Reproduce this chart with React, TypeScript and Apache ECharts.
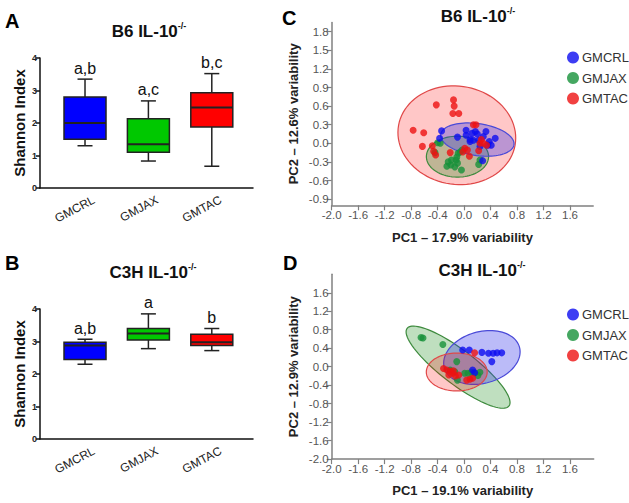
import React, { useEffect, useRef } from 'react';
import * as echarts from 'echarts';

const FONT = '"Liberation Sans", Arial, sans-serif';

const groups = ['GMCRL', 'GMJAX', 'GMTAC'];
const boxColors = ['#0000ff', '#00c800', '#ff0000'];
const pointColors = ['#0c0cf0', '#16913a', '#ee1111'];

// [min, q1, median, q3, max]
const boxA = [
  [1.3, 1.5, 2.0, 2.8, 3.35],
  [0.83, 1.1, 1.35, 2.13, 2.68],
  [0.67, 1.88, 2.48, 2.93, 3.52],
];
const lettersA = ['a,b', 'a,c', 'b,c'];
const boxB = [
  [2.3, 2.45, 2.88, 2.98, 3.07],
  [2.78, 3.05, 3.25, 3.4, 3.85],
  [2.72, 2.88, 2.98, 3.22, 3.4],
];
const lettersB = ['a,b', 'a', 'b'];

const pcXTicks = [-2.0, -1.6, -1.2, -0.8, -0.4, 0.0, 0.4, 0.8, 1.2, 1.6];
const cYTicks = [-0.9, -0.6, -0.3, 0.0, 0.3, 0.6, 0.9, 1.2, 1.5, 1.8];
const dYTicks = [-2.0, -1.6, -1.2, -0.8, -0.4, 0.0, 0.4, 0.8, 1.2, 1.6];

// Panel C (B6 IL-10-/-) PCA points
const crlC = [[-0.34, 0.2], [-0.37, 0.08], [-0.1, 0.1], [0.03, 0.21], [0.03, 0.13], [0.12, 0.16], [0.17, 0.19], [0.2, 0.15], [0.33, 0.19], [0.47, 0.08], [0.38, 0.03], [0.09, 0.06], [0.14, 0.05], [0.22, 0.05], [0.29, 0.11], [0.36, -0.03], [0.41, -0.03], [0.24, -0.05], [0.28, -0.28], [0.09, 0.03]];
const jaxC = [[-0.4, 0.01], [-0.36, 0.0], [-0.44, -0.15], [-0.24, -0.3], [-0.2, -0.35], [-0.14, -0.38], [-0.19, -0.27], [-0.11, -0.22], [-0.09, -0.16], [-0.06, -0.14], [-0.1, -0.32], [-0.04, -0.43], [-0.26, -0.37], [-0.12, -0.27], [-0.03, -0.11], [0.22, -0.34], [0.24, -0.27]];
const tacC = [[-0.42, 0.62], [-0.16, 0.7], [-0.15, 0.6], [-0.17, 0.48], [-0.08, 0.48], [-0.77, 0.21], [-0.61, 0.17], [-0.63, -0.05], [-0.48, -0.04], [-0.46, -0.13], [-0.43, -0.19], [-0.21, -0.15], [0.14, 0.3], [0.18, 0.3], [0.01, -0.08], [0.05, -0.11], [-0.02, -0.14], [0.08, -0.21], [0.24, 0.0], [0.29, 0.0], [0.34, -0.03], [0.26, 0.06], [0.22, -0.12]];

// Panel D (C3H IL-10-/-) PCA points
const crlD = [[-0.02, 0.36], [0.08, 0.36], [0.27, 0.31], [0.37, 0.29], [0.44, 0.29], [0.5, 0.3], [0.57, 0.3], [0.42, 0.11], [0.13, -0.07], [0.16, -0.13]];
const jaxD = [[-0.65, 0.63], [-0.62, 0.62], [-0.32, 0.48], [-0.11, 0.11], [0.01, -0.14], [0.06, -0.14], [0.11, -0.12], [0.24, -0.12], [0.21, -0.19], [-0.1, -0.29], [-0.21, -0.07], [-0.14, -0.11], [0.16, -0.13]];
const tacD = [[0.16, 0.3], [-0.31, -0.04], [-0.26, -0.07], [-0.21, -0.1], [-0.17, -0.14], [-0.13, -0.2], [-0.08, -0.18], [-0.16, -0.09], [0.04, -0.29], [0.09, -0.27], [0.13, -0.25], [-0.23, -0.18]];

// ellipses: [cx, cy, ux, uy, vx, vy] (center + two semi-axis vectors, data units)
const ellC = [
  { g: 2, e: [-0.11, 0.13, 0.88, -0.16, 0.13, 0.78] },
  { g: 1, e: [-0.1, -0.215, 0.47, 0, 0, 0.33] },
  { g: 0, e: [0.2, 0.06, 0.553, -0.084, 0.034, 0.255] },
];
const ellD = [
  { g: 1, e: [-0.09, -0.01, 0.77, -0.84, 0.156, 0.292] },
  { g: 0, e: [0.27, 0.2, 0.569, 0.219, -0.1, 0.54] },
  { g: 2, e: [-0.11, -0.115, 0.46, 0, 0, 0.41] },
];
const ellFill = ['rgba(50,50,235,0.33)', 'rgba(0,128,0,0.25)', 'rgba(255,0,0,0.22)'];
const ellStroke = ['#4a4ad8', '#3d8a3d', '#e04848'];

const LABEL_SHIFT = 0.14;

function boxSeries(data: number[][], letters: string[], idx: number) {
  return {
    type: 'custom',
    xAxisIndex: idx,
    yAxisIndex: idx,
    data: data.map((b, i) => [i + 1, ...b]),
    renderItem: (params: any, api: any) => {
      const x = api.value(0);
      const pMin = api.coord([x, api.value(1)]);
      const pQ1 = api.coord([x, api.value(2)]);
      const pMed = api.coord([x, api.value(3)]);
      const pQ3 = api.coord([x, api.value(4)]);
      const pMax = api.coord([x, api.value(5)]);
      const cx = pMin[0];
      const hw = 21;
      const cap = 7.5;
      const ln = { stroke: '#222', lineWidth: 1.5 };
      return {
        type: 'group',
        children: [
          { type: 'line', shape: { x1: cx, y1: pMin[1], x2: cx, y2: pQ1[1] }, style: ln },
          { type: 'line', shape: { x1: cx, y1: pQ3[1], x2: cx, y2: pMax[1] }, style: ln },
          { type: 'line', shape: { x1: cx - cap, y1: pMin[1], x2: cx + cap, y2: pMin[1] }, style: ln },
          { type: 'line', shape: { x1: cx - cap, y1: pMax[1], x2: cx + cap, y2: pMax[1] }, style: ln },
          {
            type: 'rect',
            shape: { x: cx - hw, y: pQ3[1], width: hw * 2, height: pQ1[1] - pQ3[1] },
            style: { fill: boxColors[params.dataIndex], stroke: '#222', lineWidth: 1.5 },
          },
          { type: 'line', shape: { x1: cx - hw, y1: pMed[1], x2: cx + hw, y2: pMed[1] }, style: { stroke: '#222', lineWidth: 2 } },
          {
            type: 'text',
            x: cx,
            y: pMax[1] - 3,
            style: {
              text: letters[params.dataIndex],
              fill: '#111',
              font: `16px ${FONT}`,
              align: 'center',
              verticalAlign: 'bottom',
              textAlign: 'center',
              textVerticalAlign: 'bottom',
            },
          },
        ],
      };
    },
  };
}

function ellipseSeries(list: { g: number; e: number[] }[], idx: number) {
  return list.map((item) => ({
    type: 'custom',
    xAxisIndex: idx,
    yAxisIndex: idx,
    silent: true,
    z: 1,
    data: [item.e],
    renderItem: (params: any, api: any) => {
      const cx = api.value(0), cy = api.value(1), ux = api.value(2), uy = api.value(3), vx = api.value(4), vy = api.value(5);
      const pts: number[][] = [];
      for (let i = 0; i <= 90; i++) {
        const t = (Math.PI * 2 * i) / 90;
        pts.push(api.coord([cx + ux * Math.cos(t) + vx * Math.sin(t), cy + uy * Math.cos(t) + vy * Math.sin(t)]));
      }
      return {
        type: 'polygon',
        shape: { points: pts },
        style: { fill: ellFill[item.g], stroke: ellStroke[item.g], lineWidth: 1.2 },
      };
    },
  }));
}

function scatterSeries(sets: number[][][], idx: number) {
  const order = [1, 0, 2];
  return order.map((g) => ({
    type: 'scatter',
    name: groups[g],
    xAxisIndex: idx,
    yAxisIndex: idx,
    symbolSize: 7,
    z: 3,
    itemStyle: { color: pointColors[g] },
    data: sets[g],
  }));
}

function boxXAxis(idx: number) {
  return {
    type: 'value',
    gridIndex: idx,
    min: 0.29,
    max: 3.65,
    axisLine: { show: true, onZero: false, lineStyle: { color: '#111', width: 1.5 } },
    axisTick: { show: false },
    splitLine: { show: false },
    axisLabel: {
      customValues: groups.map((_, i) => i + 1 + LABEL_SHIFT),
      formatter: (v: number) => groups[Math.round(v - LABEL_SHIFT) - 1] || '',
      rotate: 28,
      margin: 11,
      fontSize: 12,
      color: '#222',
      fontFamily: FONT,
    },
  };
}

function boxYAxis(idx: number) {
  return {
    type: 'value',
    gridIndex: idx,
    min: 0,
    max: 4,
    interval: 1,
    name: 'Shannon Index',
    nameLocation: 'middle',
    nameGap: 13,
    nameTextStyle: { fontSize: 15, fontWeight: 'bold', color: '#111', fontFamily: FONT },
    axisLine: { show: true, onZero: false, lineStyle: { color: '#111', width: 1.5 } },
    axisTick: { show: true, length: 4, lineStyle: { color: '#111', width: 1.5 } },
    splitLine: { show: false },
    axisLabel: { fontSize: 9, fontWeight: 'bold', color: '#222', margin: 3, fontFamily: FONT },
  };
}

const pcAxisLine = { show: true, onZero: false, lineStyle: { color: '#808080', width: 1.5 } };
const pcLabel = { fontSize: 11.5, color: '#555', fontFamily: FONT };
const fmt1 = (v: number) => (Math.abs(v) < 1e-9 ? '0.0' : v.toFixed(1));

function pcXAxis(idx: number, name: string, max: number, gap: number) {
  return {
    type: 'value',
    gridIndex: idx,
    min: -2,
    max,
    name,
    nameLocation: 'middle',
    nameGap: gap,
    nameTextStyle: { fontSize: 13, fontWeight: 'bold', color: '#222', fontFamily: FONT },
    axisLine: pcAxisLine,
    axisTick: { show: true, length: 5, customValues: pcXTicks, lineStyle: { color: '#808080', width: 1.2 } },
    splitLine: { show: false },
    axisLabel: { ...pcLabel, customValues: pcXTicks, formatter: fmt1, margin: 4 },
  };
}

function pcYAxis(idx: number, name: string, min: number, max: number, ticks: number[]) {
  return {
    type: 'value',
    gridIndex: idx,
    min,
    max,
    name,
    nameLocation: 'middle',
    nameGap: 32,
    nameTextStyle: { fontSize: 13, fontWeight: 'bold', color: '#222', fontFamily: FONT },
    axisLine: pcAxisLine,
    axisTick: { show: true, length: 5, customValues: ticks, lineStyle: { color: '#808080', width: 1.2 } },
    splitLine: { show: false },
    axisLabel: { ...pcLabel, customValues: ticks, formatter: fmt1, margin: 3 },
  };
}

function titleText(x: number, y: number, main: string) {
  return {
    type: 'text',
    x,
    y,
    style: {
      text: `{t|${main}}{s|-/-}`,
      align: 'center',
      verticalAlign: 'middle',
      textAlign: 'center',
      textVerticalAlign: 'middle',
      rich: {
        t: { fontSize: 17, fontWeight: 'bold', fill: '#111', fontFamily: FONT, color: '#111', lineHeight: 20 },
        s: { fontSize: 9, fontWeight: 'bold', fill: '#111', fontFamily: FONT, color: '#111', verticalAlign: 'top', padding: [0, 0, 9, 0] },
      },
    },
  };
}

function letterText(x: number, y: number, t: string) {
  return {
    type: 'text',
    x,
    y,
    style: {
      text: t,
      font: `bold 20px ${FONT}`,
      fill: '#000',
      align: 'left',
      verticalAlign: 'middle',
      textAlign: 'left',
      textVerticalAlign: 'middle',
    },
  };
}

function legendAt(top: number) {
  return {
    data: [groups[0], groups[1], groups[2]],
    orient: 'vertical',
    left: 562,
    top,
    icon: 'circle',
    itemWidth: 12,
    itemHeight: 12,
    itemGap: 7.5,
    selectedMode: false,
    textStyle: { fontSize: 13, color: '#333', fontFamily: FONT, padding: [0, 0, 0, -2] },
  };
}

export default function App() {
  const ref = useRef<HTMLDivElement>(null);
  useEffect(() => {
    document.body.style.margin = '0';
    if (!ref.current) return;
    const chart = echarts.init(ref.current, null, { renderer: 'svg' });
    chart.setOption({
      animation: false,
      backgroundColor: '#fff',
      textStyle: { fontFamily: FONT },
      grid: [
        { left: 40, top: 58, width: 213, height: 130 },
        { left: 40, top: 309, width: 213, height: 130 },
        { left: 331.7, top: 22.4, width: 261.5, height: 182.9 },
        { left: 331.7, top: 274.3, width: 262, height: 184.8 },
      ],
      xAxis: [
        boxXAxis(0),
        boxXAxis(1),
        pcXAxis(2, 'PC1 – 17.9% variability', 1.95, 26),
        pcXAxis(3, 'PC1 – 19.1% variability', 1.96, 25),
      ],
      yAxis: [
        boxYAxis(0),
        boxYAxis(1),
        pcYAxis(2, 'PC2 – 12.6% variability', -1.0, 1.95, cYTicks),
        pcYAxis(3, 'PC2 – 12.9% variability', -2.0, 2.0, dYTicks),
      ],
      legend: [legendAt(46), legendAt(303)],
      series: [
        boxSeries(boxA, lettersA, 0),
        boxSeries(boxB, lettersB, 1),
        ...ellipseSeries(ellC, 2),
        ...ellipseSeries(ellD, 3),
        ...scatterSeries([crlC, jaxC, tacC], 2),
        ...scatterSeries([crlD, jaxD, tacD], 3),
      ],
      graphic: [
        letterText(5, 21, 'A'),
        letterText(5, 263, 'B'),
        letterText(282, 18, 'C'),
        letterText(283, 263, 'D'),
        titleText(149, 31, 'B6 IL-10'),
        titleText(153, 272, 'C3H IL-10'),
        titleText(478, 16, 'B6 IL-10'),
        titleText(482, 270, 'C3H IL-10'),
      ],
    });
    return () => chart.dispose();
  }, []);
  return <div ref={ref} style={{ width: 629, height: 503 }} />;
}
